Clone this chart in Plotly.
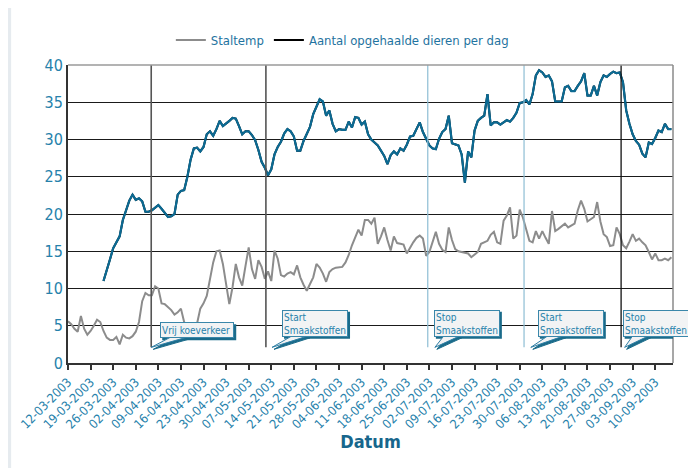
import pandas as pd
import plotly.graph_objects as go

# ---------------- data ----------------
start_temp = "2003-03-12"
staltemp = [
    5.6, 5.2, 4.6, 4.2, 6.3, 4.6, 3.8, 4.3, 5.0, 5.8,
    5.5, 4.3, 3.4, 3.1, 3.1, 3.5, 2.5, 3.8, 3.4, 3.3,
    3.6, 4.2, 5.5, 8.3, 9.4, 9.1, 9.1, 10.3, 10.0, 8.0,
    7.9, 7.5, 7.1, 6.5, 6.8, 7.3, 5.5, 4.8, 4.5, 4.8,
    5.3, 7.3, 8.0, 9.0, 11.5, 13.5, 15.0, 15.1, 13.3, 10.5,
    7.9, 10.2, 13.3, 11.5, 10.4, 13.0, 15.5, 12.6, 11.3, 13.8,
    12.9, 11.3, 12.3, 11.0, 15.1, 14.0, 11.8, 11.6, 12.0, 12.2,
    11.9, 13.1, 11.5, 10.5, 9.7, 10.6, 11.5, 13.3, 12.8, 12.0,
    10.9, 12.2, 12.6, 12.8, 12.8, 12.9, 13.5, 14.5, 15.8, 16.9,
    17.9, 17.1, 19.2, 19.2, 18.7, 19.5, 16.0, 17.0, 18.2, 16.5,
    15.1, 17.0, 16.1, 16.0, 15.9, 14.7, 15.5, 16.2, 16.8, 17.1,
    16.7, 14.4, 14.9, 16.2, 17.6, 16.0, 15.2, 14.9, 18.2, 16.5,
    15.3, 15.0, 14.9, 14.9, 14.7, 14.2, 14.6, 14.9, 16.0, 16.2,
    16.4, 17.2, 17.6, 16.2, 16.0, 19.1, 19.8, 20.9, 16.7, 17.1,
    20.6, 19.5, 18.0, 16.4, 16.2, 17.7, 16.7, 17.7, 16.8, 16.0,
    20.4, 17.7, 18.0, 18.3, 18.7, 18.2, 18.4, 18.7, 20.5, 21.8,
    20.7, 19.0, 19.3, 19.6, 21.6, 19.0, 17.3, 16.9, 15.7, 15.8,
    18.2, 17.3, 15.8, 15.4, 16.3, 17.3, 16.4, 16.7, 16.2, 15.8,
    14.9, 13.9, 14.7, 13.8, 13.8, 14.0, 13.8, 14.2,
]

start_dieren = "2003-03-23"
dieren = [
    11.0, 12.6, 13.9, 15.4, 16.3, 17.0, 19.2, 20.6, 21.8,
    22.6, 21.9, 22.1, 21.7, 20.3, 20.3, 20.5, 20.8, 21.2, 20.7,
    20.2, 19.6, 19.7, 20.0, 22.6, 23.1, 23.2, 25.0, 27.3, 28.8,
    28.9, 28.4, 29.0, 30.7, 31.1, 30.5, 31.4, 32.5, 31.8, 32.1,
    32.5, 32.9, 32.8, 31.8, 30.7, 31.1, 31.1, 30.6, 29.9, 28.6,
    27.0, 26.2, 25.2, 26.0, 28.0, 29.0, 29.7, 30.8, 31.4, 31.1,
    30.4, 28.5, 28.5, 29.8, 30.8, 31.7, 33.4, 34.4, 35.4, 35.1,
    33.2, 33.9, 32.1, 31.1, 31.4, 31.3, 31.3, 32.4, 31.6, 33.0,
    32.9, 32.0, 32.4, 30.7, 30.0, 29.6, 29.2, 28.5, 27.8, 26.7,
    27.9, 28.4, 28.0, 28.8, 28.5, 29.3, 30.4, 30.5, 31.3, 32.3,
    31.0, 30.0, 29.2, 28.8, 28.7, 30.1, 31.0, 31.4, 33.2, 29.5,
    29.4, 29.2, 28.0, 24.2, 28.4, 27.6, 31.2, 32.5, 32.9, 33.2,
    36.1, 31.9, 32.3, 32.3, 32.0, 32.3, 32.6, 32.4, 32.9, 33.6,
    34.9, 35.0, 35.3, 34.7, 36.1, 38.6, 39.3, 39.0, 38.4, 38.6,
    37.8, 35.1, 35.1, 35.1, 37.0, 37.2, 36.5, 36.5, 37.2, 37.8,
    38.9, 35.9, 35.9, 37.2, 35.9, 37.7, 38.6, 38.4, 38.8, 39.1,
    38.9, 39.0, 37.7, 33.9, 32.1, 30.7, 29.8, 29.3, 28.1, 27.6,
    29.6, 29.4, 30.2, 31.2, 31.0, 32.1, 31.4, 31.4,
]

event_dates = ["2003-04-06 19:00", "2003-05-12 08:00", "2003-07-01 12:00",
               "2003-07-31 08:00", "2003-08-30 10:00"]
event_labels = ["Vrij koeverkeer", "Start<br>Smaakstoffen", "Stop<br>Smaakstoffen",
                "Start<br>Smaakstoffen", "Stop<br>Smaakstoffen"]

# ---------------- styling ----------------
FONT = "Liberation Sans Narrow, DejaVu Sans Condensed, Arial Narrow, sans-serif"
TXT = "#2681ab"
DARKBLUE = "#1a6b8a"
LINE_BLUE = "#0b6a93"
GRAY = "#8c8c8c"
BOXFILL = "#f2f3f4"

x_temp = pd.date_range(start_temp, periods=len(staltemp), freq="D")
x_dier = pd.date_range(start_dieren, periods=len(dieren), freq="D")

fig = go.Figure()
fig.add_trace(go.Scatter(x=x_temp, y=staltemp, mode="lines", name="Staltemp",
                         line=dict(color=GRAY, width=2)))
fig.add_trace(go.Scatter(x=x_dier, y=dieren, mode="lines",
                         name="Aantal opgehaalde dieren per dag",
                         line=dict(color="#000000", width=2)))
fig.add_trace(go.Scatter(x=x_dier, y=dieren, mode="lines", showlegend=False,
                         hoverinfo="skip", line=dict(color=LINE_BLUE, width=2.2)))

# white panel on grey page
fig.add_shape(type="rect", xref="paper", yref="paper", x0=-0.094, x1=1.031,
              y0=-0.4, y1=1.3, fillcolor="white", line_width=0, layer="below")

# event lines
ev_colors = ["#555555", "#555555", "#8dbdd4", "#8dbdd4", "#111111"]
ev_widths = [1.6, 1.6, 1.2, 1.2, 1.3]
for d, c, w in zip(event_dates, ev_colors, ev_widths):
    fig.add_shape(type="line", xref="x", yref="y", x0=d, x1=d, y0=2.1, y1=40,
                  line=dict(color=c, width=w), layer="above")

# top and right frame
fig.add_shape(type="line", xref="paper", yref="paper", x0=0, x1=1, y0=1, y1=1,
              line=dict(color="#9a9a9a", width=1.5), layer="above")
fig.add_shape(type="line", xref="paper", yref="paper", x0=1, x1=1, y0=0, y1=1,
              line=dict(color="#8a8a8a", width=1.5), layer="above")

# callouts (speech bubbles)
TIP_Y = 2.1
tip_offsets = [0.0, 1.9, 2.2, 2.1, 1.1]
box_offsets = [(46, -17), (43, -24), (32, -24), (40, -24), (31, -24)]
box_sizes = [(70, 12), (62, 23), (62, 23), (62, 23), (62, 23)]
PAD, BW = 1, 1
for d, lab, toff, (ax, ay), (W, H) in zip(event_dates, event_labels, tip_offsets,
                                           box_offsets, box_sizes):
    tip = pd.Timestamp(d) + pd.Timedelta(days=toff)
    OW, OH = W + 2 * (PAD + BW), H + 2 * (PAD + BW)
    left = ax - OW / 2
    bottom = -ay - OH / 2          # pixel coords, upward positive
    top = -ay + OH / 2
    pix = dict(xref="x", yref="y", xsizemode="pixel", ysizemode="pixel",
               xanchor=tip, yanchor=TIP_Y, layer="above")
    # box shadow
    fig.add_shape(type="rect", x0=left + 2, x1=left + OW + 2, y0=bottom - 2, y1=top - 2,
                  fillcolor=DARKBLUE, line_width=0, **pix)
    # tail shadow + tail
    for dx, dy, fill, col in [(2, -2, DARKBLUE, DARKBLUE), (0, 0, BOXFILL, "#2f7fa5")]:
        path = (f"M {0 + dx},{0 + dy} L {left + 10 + dx},{bottom + 1 + dy} "
                f"L {left + 26 + dx},{bottom + 1 + dy} Z")
        fig.add_shape(type="path", path=path, fillcolor=fill,
                      line=dict(color=col, width=1), **pix)
    fig.add_annotation(x=tip, y=TIP_Y, xref="x", yref="y", text=lab, showarrow=False,
                       xshift=ax, yshift=-ay, xanchor="center", yanchor="middle",
                       width=W, height=H, align="left", valign="middle",
                       borderpad=PAD, borderwidth=BW, bgcolor=BOXFILL,
                       bordercolor="#3a87aa",
                       font=dict(family=FONT, size=10, color=TXT))

# the page adds an 8px body margin, so the figure is drawn 8px in from the corner
fig.update_layout(
    width=688, height=460,
    margin=dict(l=60, r=23, t=57, b=105, autoexpand=False),
    paper_bgcolor="#e6ebef", plot_bgcolor="white",
    font=dict(family=FONT, color=TXT),
    showlegend=True,
    legend=dict(orientation="h", x=0.170, xanchor="left", y=1.084, yanchor="middle",
                font=dict(family=FONT, size=13, color="#1f73a0"),
                bgcolor="rgba(0,0,0,0)", itemwidth=30),
    xaxis=dict(
        type="date", automargin=False,
        range=["2003-03-12", "2003-09-15 12:00"],
        tick0="2003-03-12", dtick=7 * 24 * 3600 * 1000,
        tickformat="%d-%m-%Y", tickangle=-45,
        tickfont=dict(family=FONT, size=12.5, color=TXT),
        showgrid=False, showline=True, linecolor="#333333", linewidth=2,
        ticks="outside", ticklen=5, tickcolor="#333333", tickwidth=1.5,
        zeroline=False,
        title=dict(text="<b>Datum</b>", font=dict(family=FONT, size=18, color="#17668c"),
                   standoff=3),
    ),
    yaxis=dict(
        range=[0, 40], dtick=5, tick0=0, automargin=False,
        tickfont=dict(family=FONT, size=16, color=TXT),
        showgrid=True, gridcolor="#1a1a1a", gridwidth=1.3,
        showline=True, linecolor="#333333", linewidth=2,
        ticks="", zeroline=False,
    ),
)

fig.write_html("out.html")
